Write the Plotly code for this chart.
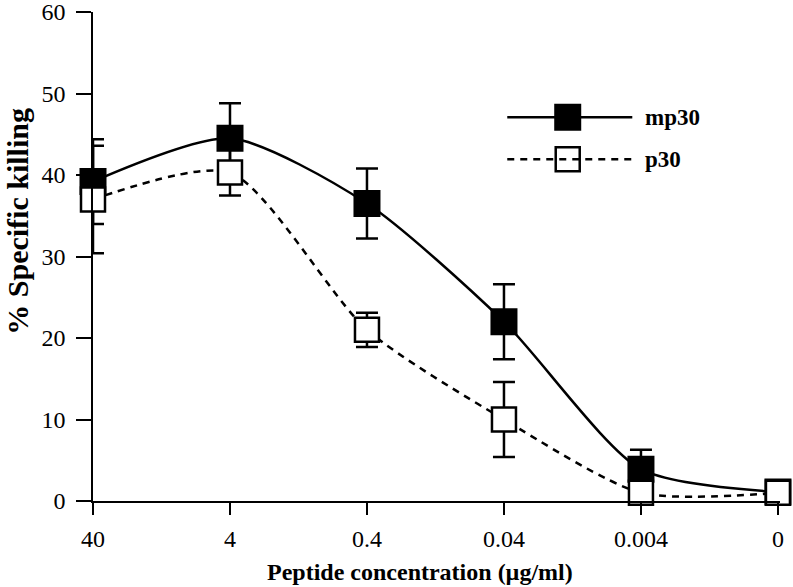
import plotly.graph_objects as go

concentrations = ["40", "4", "0.4", "0.04", "0.004", "0"]
mp30 = [39.2, 44.5, 36.5, 22.0, 3.9, 1.1]
mp30_err = [5.2, 4.3, 4.3, 4.6, 2.4, 0.0]
p30 = [37.0, 40.3, 21.0, 10.0, 1.0, 1.0]
p30_err = [6.6, 2.8, 2.1, 4.6, 0.0, 0.0]

xs = list(range(len(concentrations)))
FONT = "Liberation Serif, Times New Roman, serif"
DASH = "7px,6px"

fig = go.Figure()
fig.add_trace(go.Scatter(
    x=xs, y=mp30, name="mp30", mode="lines+markers",
    line=dict(color="black", width=2.5, shape="spline", smoothing=0.7),
    marker=dict(symbol="square", size=25, color="black", line=dict(color="black", width=2)),
    error_y=dict(type="data", array=mp30_err, visible=True, color="black", thickness=2.5, width=11),
    cliponaxis=False, showlegend=False,
))
fig.add_trace(go.Scatter(
    x=xs, y=p30, name="p30", mode="lines+markers",
    line=dict(color="black", width=2.5, dash=DASH, shape="spline", smoothing=0.7),
    marker=dict(symbol="square", size=24, color="white", line=dict(color="black", width=2.5)),
    error_y=dict(type="data", array=p30_err, visible=True, color="black", thickness=2.5, width=11),
    cliponaxis=False, showlegend=False,
))

# legend drawn manually (long sample lines as in the reference)
LEG_X0, LEG_X1, LEG_XM, LEG_XT = 0.603, 0.785, 0.691, 0.800
LEG_Y1, LEG_Y2 = 0.785, 0.699
fig.add_shape(type="line", xref="x domain", yref="y domain", x0=LEG_X0, x1=LEG_X1, y0=LEG_Y1, y1=LEG_Y1,
              line=dict(color="black", width=2.5))
fig.add_shape(type="line", xref="x domain", yref="y domain", x0=LEG_X0, x1=LEG_X1, y0=LEG_Y2, y1=LEG_Y2,
              line=dict(color="black", width=2.5, dash=DASH))
fig.add_trace(go.Scatter(
    x=[LEG_XM], y=[LEG_Y1], xaxis="x2", yaxis="y2", mode="markers",
    marker=dict(symbol="square", size=25, color="black", line=dict(color="black", width=2)),
    showlegend=False, hoverinfo="skip",
))
fig.add_trace(go.Scatter(
    x=[LEG_XM], y=[LEG_Y2], xaxis="x2", yaxis="y2", mode="markers",
    marker=dict(symbol="square", size=24, color="white", line=dict(color="black", width=2.5)),
    showlegend=False, hoverinfo="skip",
))
fig.add_annotation(xref="x domain", yref="y domain", x=LEG_XT, y=LEG_Y1, text="<b>mp30</b>",
                   showarrow=False, xanchor="left", yanchor="middle",
                   font=dict(family=FONT, size=23, color="black"))
fig.add_annotation(xref="x domain", yref="y domain", x=LEG_XT, y=LEG_Y2, text="<b>p30</b>",
                   showarrow=False, xanchor="left", yanchor="middle",
                   font=dict(family=FONT, size=23, color="black"))

# axis titles
fig.add_annotation(xref="paper", yref="paper", x=-0.110, y=0.572, text="<b>% Specific killing</b>",
                   textangle=-90, showarrow=False, xanchor="center", yanchor="middle",
                   font=dict(family=FONT, size=30, color="black"))
fig.add_annotation(xref="paper", yref="paper", x=0.476, y=-0.146, text="<b>Peptide concentration (µg/ml)</b>",
                   showarrow=False, xanchor="center", yanchor="middle",
                   font=dict(family=FONT, size=24, color="black"))

fig.update_layout(
    width=793, height=587,
    margin=dict(l=93, r=13, t=12, b=86),
    plot_bgcolor="white", paper_bgcolor="white",
    font=dict(family=FONT, size=24, color="black"),
    xaxis=dict(
        range=[0, 5.015], tickmode="array", tickvals=xs, ticktext=concentrations,
        showgrid=False, zeroline=False, showline=True, linecolor="black", linewidth=1.5,
        ticks="outside", ticklen=12, tickwidth=1.5, tickcolor="black",
        tickfont=dict(family=FONT, size=24), ticklabelstandoff=3, automargin=False,
        ticklabeloverflow="allow",
    ),
    yaxis=dict(
        range=[0, 60], tickvals=[0, 10, 20, 30, 40, 50, 60],
        showgrid=False, zeroline=False, showline=True, linecolor="black", linewidth=1.5,
        ticks="outside", ticklen=15, tickwidth=1.5, tickcolor="black",
        tickfont=dict(family=FONT, size=24), ticklabelstandoff=6, automargin=False,
        ticklabeloverflow="allow",
    ),
    xaxis2=dict(range=[0, 1], overlaying="x", visible=False, fixedrange=True),
    yaxis2=dict(range=[0, 1], overlaying="y", visible=False, fixedrange=True),
)

fig.write_html("out.html", config={"displayModeBar": False},
               post_script="document.body.style.margin='0';")
